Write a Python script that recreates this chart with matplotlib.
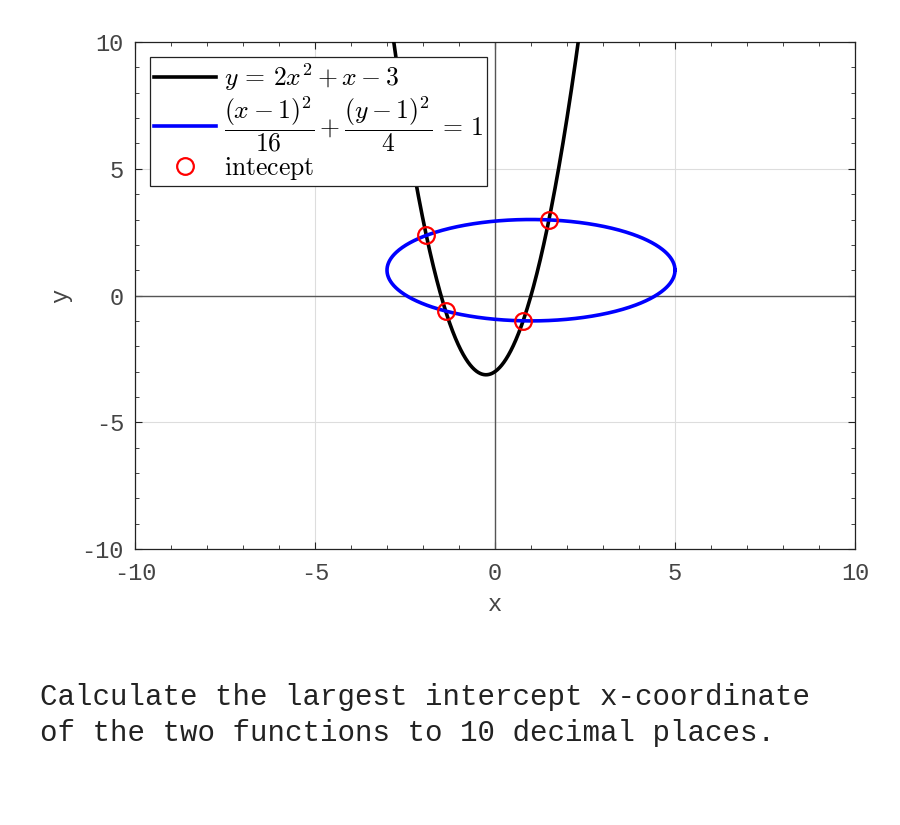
import numpy as np
import matplotlib.pyplot as plt
from matplotlib.ticker import MultipleLocator

# parabola y = a x^2 + b x + c
parab_coef = [2, 1, -3]
# ellipse (x-h)^2/A^2 + (y-k)^2/B^2 = 1
ell_center = [1, 1]
ell_axes = [4, 2]

x_lim = [-10, 10]
y_lim = [-10, 10]
ticks = [-10, -5, 0, 5, 10]

plt.rcParams['mathtext.fontset'] = 'cm'
plt.rcParams['axes.unicode_minus'] = False
mono = 'Liberation Mono'

fig = plt.figure(figsize=(9, 8.25), dpi=100)
ax = fig.add_axes([0.15, 0.3345, 0.80, 0.6145])

xs = np.linspace(-4, 4, 2000)
ys = np.polyval(parab_coef, xs)
ax.plot(xs, ys, color='black', lw=2.6, label=r'$y\,=\,2x^2+x-3$', zorder=3)

t = np.linspace(0, 2 * np.pi, 600)
ex = ell_center[0] + ell_axes[0] * np.cos(t)
ey = ell_center[1] + ell_axes[1] * np.sin(t)
ax.plot(ex, ey, color='#0000ff', lw=2.6,
        label=r'$\dfrac{(x-1)^2}{16}+\dfrac{(y-1)^2}{4}\,=\,1$', zorder=3)

# intersections: substitute parabola into ellipse -> quartic in x
a, b, c = parab_coef
h, k = ell_center
A2, B2 = ell_axes[0] ** 2, ell_axes[1] ** 2
p = np.poly1d([a, b, c - k])
q = np.poly1d([1, -h])
quartic = (q * q) * B2 + (p * p) * A2 - A2 * B2
r = quartic.r
r = np.sort(r[np.abs(r.imag) < 1e-9].real)
ax.plot(r, np.polyval(parab_coef, r), 'o', mfc='none', mec='red', ms=12,
        mew=1.6, label=r'$\mathrm{intecept}$', zorder=4)

ax.axhline(0, color='#555555', lw=1.0, zorder=2)
ax.axvline(0, color='#555555', lw=1.0, zorder=2)

ax.set_xlim(x_lim)
ax.set_ylim(y_lim)
ax.set_xticks(ticks)
ax.set_yticks(ticks)
ax.xaxis.set_minor_locator(MultipleLocator(1))
ax.yaxis.set_minor_locator(MultipleLocator(1))
ax.grid(True, which='major', color='#dddddd', lw=0.8, zorder=0)
ax.tick_params(which='both', direction='in', top=True, right=True,
               colors='#222222', labelcolor='#444444')
ax.tick_params(which='major', length=5)
ax.tick_params(which='minor', length=3)
ax.tick_params(axis='x', which='major', pad=9)
ax.tick_params(axis='y', which='major', pad=8)
for lab in ax.get_xticklabels() + ax.get_yticklabels():
    lab.set_fontfamily(mono)
    lab.set_fontsize(17)
for s in ax.spines.values():
    s.set_color('#222222')
    s.set_linewidth(0.9)

ax.set_xlabel('x', fontfamily=mono, fontsize=17, color='#444444', labelpad=6)
ax.set_ylabel('y', fontfamily=mono, fontsize=17, color='#444444', labelpad=7)

leg = ax.legend(loc='upper left', handlelength=2.4,
                handletextpad=0.3, borderpad=0.15, labelspacing=0.05,
                borderaxespad=0.6, fancybox=False, framealpha=1,
                edgecolor='#222222', prop={'size': 18.5})
leg.get_frame().set_linewidth(0.9)

fig.text(40 / 900, 1 - 715 / 825,
         'Calculate the largest intercept x-coordinate\n'
         'of the two functions to 10 decimal places.',
         fontfamily=mono, fontsize=21, va='center', ha='left',
         linespacing=1.35, color='#222222')

fig.savefig('out.png', dpi=100)
